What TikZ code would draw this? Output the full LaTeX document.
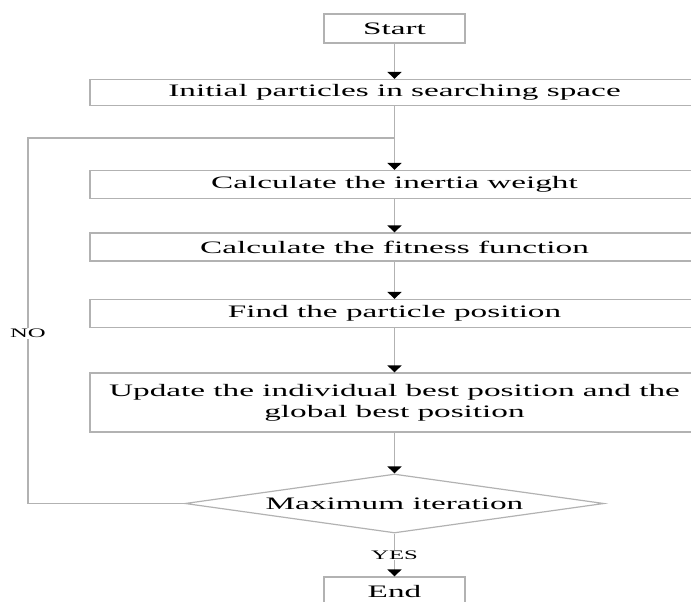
\documentclass[tikz,border=0pt]{standalone}
\usepackage{fontspec}
\setmainfont{Liberation Serif}
\usepackage{graphicx}
\usetikzlibrary{arrows.meta,shapes.geometric}

\newcommand{\psowide}[1]{\scalebox{1.9}[1]{#1}}

\tikzset{
  psobox/.style={draw=gray!60, line width=1.2pt, inner sep=0pt, minimum width=609pt, minimum height=28pt, align=center, font=\fontsize{17.5}{21}\selectfont},
  psoterm/.style={psobox, minimum width=141pt, minimum height=29pt},
  psodec/.style={diamond, draw=gray!60, line width=1.2pt, inner sep=0pt, aspect=7.1, minimum width=419pt, minimum height=59pt, font=\fontsize{17.5}{21}\selectfont},
  psoarr/.style={draw=gray!60, line width=1.5pt, -{Triangle[width=14pt, length=7pt, color=black]}},
  psoline/.style={draw=gray!60, line width=1.5pt},
  psolab/.style={fill=white, inner sep=1pt, font=\fontsize{13}{15}\selectfont}
}

\begin{document}
\begin{tikzpicture}[x=1pt,y=-1pt]
  \useasboundingbox (0,0) rectangle (691,602);

  \node[psoterm] (start) at (394.5,28.5) {\psowide{Start}};
  \node[psobox, minimum height=26pt] (init) at (394.5,92.5) {\psowide{Initial particles in searching space}};
  \node[psobox] (inertia) at (394.5,184.5) {\psowide{Calculate the inertia weight}};
  \node[psobox] (fit) at (394.5,247) {\psowide{Calculate the fitness function}};
  \node[psobox] (find) at (394.5,313.5) {\psowide{Find the particle position}};
  \node[psobox, minimum height=59pt] (upd) at (394.5,402.5) {\psowide{Update the individual best position and the}\\\psowide{global best position}};
  \node[psodec] (maxit) at (394.5,503.5) {\psowide{Maximum iteration}};
  \node[psoterm] (end) at (394.5,591.5) {\psowide{End}};

  \coordinate (join) at (394.5,138);
  \coordinate (loopbot) at (28,503.5);
  \coordinate (looptop) at (28,138);

  \draw[psoarr] (start) -- (init);
  \draw[psoline] (init) -- (join);
  \draw[psoarr] (join) -- (inertia);
  \draw[psoarr] (inertia) -- (fit);
  \draw[psoarr] (fit) -- (find);
  \draw[psoarr] (find) -- (upd);
  \draw[psoarr] (upd) -- (maxit);
  \draw[psoline] (maxit) -- (loopbot) -- node[psolab, pos=0.466] {\psowide{NO}} (looptop) -- (join);
  \draw[psoarr] (maxit) -- node[psolab, pos=0.5] {\psowide{YES}} (end);
\end{tikzpicture}
\end{document}
